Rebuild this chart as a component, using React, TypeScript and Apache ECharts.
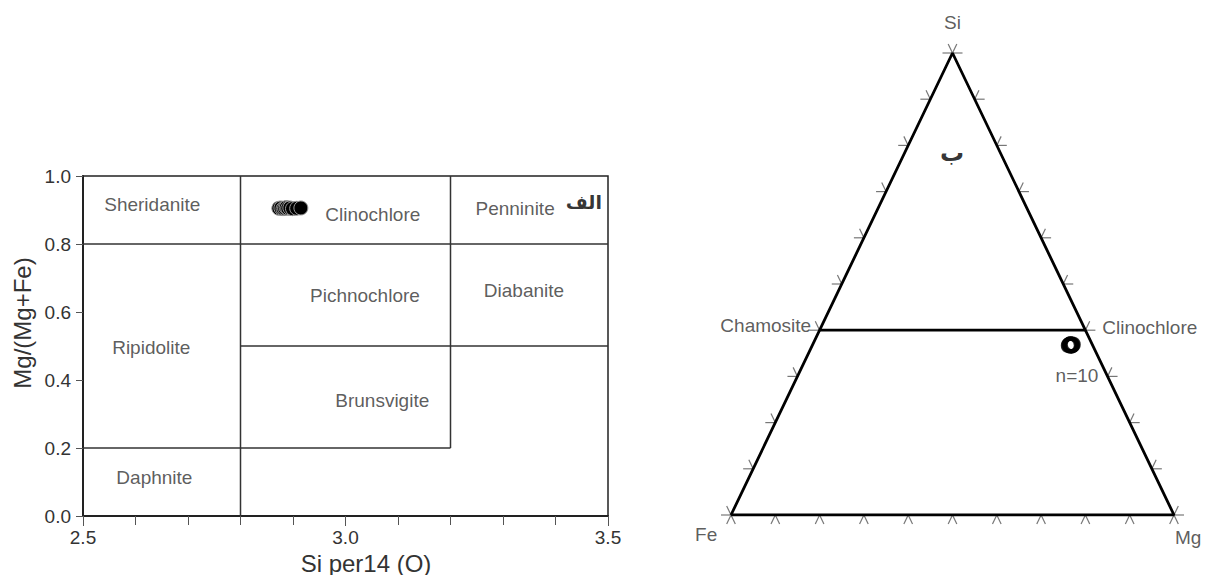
import React, { useEffect, useRef } from "react";
import * as echarts from "echarts";

// ---------- Left diagram (Si per 14 O vs Mg/(Mg+Fe)) ----------
const xTicks = [2.5, 3.0, 3.5];
const yTicks = [0.0, 0.2, 0.4, 0.6, 0.8, 1.0];

// field boundaries: [x1, y1, x2, y2]
const fieldLines = [
  [2.5, 0.8, 3.5, 0.8],
  [2.8, 0.0, 2.8, 1.0],
  [3.2, 0.2, 3.2, 1.0],
  [2.8, 0.5, 3.5, 0.5],
  [2.5, 0.2, 3.2, 0.2],
];

const fieldNames = ["Sheridanite", "Clinochlore", "Penninite", "Pichnochlore", "Diabanite", "Ripidolite", "Brunsvigite", "Daphnite"];
const fieldX = [2.632, 3.052, 3.323, 3.037, 3.34, 2.63, 3.07, 2.636];
const fieldY = [0.915, 0.888, 0.903, 0.65, 0.662, 0.497, 0.341, 0.112];

const sampleSi = [2.873, 2.877, 2.881, 2.884, 2.887, 2.890, 2.894, 2.899, 2.907, 2.915];
const sampleMgRatio = [0.905, 0.906, 0.904, 0.905, 0.907, 0.905, 0.906, 0.904, 0.905, 0.906];

const panelA = { text: "الف", x: 3.454, y: 0.924 };

// ---------- Right ternary diagram (Si - Fe - Mg) ----------
const tickFractions = [0, 0.1, 0.2, 0.3, 0.4, 0.5, 0.6, 0.7, 0.8, 0.9, 1.0];
const divideSi = 0.4; // Chamosite - Clinochlore line
const ternSi = [0.368, 0.369, 0.367, 0.368, 0.370, 0.366, 0.368, 0.369, 0.367, 0.368];
const ternMg = [0.580, 0.582, 0.584, 0.586, 0.581, 0.585, 0.583, 0.587, 0.579, 0.584];

// labels in the triangle frame [name, gx, gy, align, bold]
const ternLabels: [string, number, number, string, boolean][] = [
  ["Si", 0.5, 1.067, "center", false],
  ["Fe", -0.056, -0.043, "center", false],
  ["Mg", 1.032, -0.048, "center", false],
  ["Chamosite", 0.181, 0.41, "right", false],
  ["Clinochlore", 0.838, 0.406, "left", false],
  ["n=10", 0.781, 0.301, "center", false],
  ["ب", 0.499, 0.784, "center", true],
];

// ternary (Si, Mg) -> triangle frame
const toFrame = (si: number, mg: number) => [mg + si / 2, si];

const FONT = "Liberation Sans";

export default function App() {
  const ref = useRef<HTMLDivElement>(null);
  useEffect(() => {
    document.body.style.margin = "0";
    const chart = echarts.init(ref.current!, undefined, { renderer: "svg" });

    const fieldSeries = fieldLines.map((l) => ({
      type: "line",
      xAxisIndex: 0,
      yAxisIndex: 0,
      data: [[l[0], l[1]], [l[2], l[3]]],
      symbol: "none",
      lineStyle: { color: "#333", width: 1.5 },
      silent: true,
    }));

    const vFe = toFrame(0, 0);
    const vMg = toFrame(0, 1);
    const vSi = toFrame(1, 0);

    const tickData: number[][] = [];
    // side 0: Fe->Mg (base), side 1: Fe->Si (left), side 2: Mg->Si (right)
    const sides = [
      [vFe, vMg],
      [vFe, vSi],
      [vMg, vSi],
    ];
    sides.forEach((sd, s) => {
      tickFractions.forEach((f) => {
        tickData.push([sd[0][0] + (sd[1][0] - sd[0][0]) * f, sd[0][1] + (sd[1][1] - sd[0][1]) * f, s]);
      });
    });

    const option: any = {
      animation: false,
      backgroundColor: "#fff",
      graphic: [
        {
          type: "text",
          x: 22,
          y: 323,
          rotation: Math.PI / 2,
          style: { text: "Mg/(Mg+Fe)", fontFamily: FONT, fontSize: 24, fill: "#333", align: "center", verticalAlign: "middle" },
        },
        {
          type: "text",
          x: 366,
          y: 563,
          style: { text: "Si per14 (O)", fontFamily: FONT, fontSize: 24, fill: "#333", align: "center", verticalAlign: "middle" },
        },
      ],
      grid: [
        { left: 83, top: 176, width: 525, height: 340, show: true, borderColor: "#222", borderWidth: 1.5, backgroundColor: "transparent" },
        { left: 731, top: 53, width: 443, height: 462 },
      ],
      xAxis: [
        {
          gridIndex: 0,
          type: "value",
          min: 2.5,
          max: 3.5,
          interval: 0.5,
          axisLine: { show: true, lineStyle: { color: "#222", width: 2 } },
          axisTick: { show: true, length: 10, lineStyle: { color: "#555" } },
          minorTick: { show: true, splitNumber: 5, length: 9, lineStyle: { color: "#555" } },
          splitLine: { show: false },
          axisLabel: { fontFamily: FONT, fontSize: 19, color: "#333", margin: 12, formatter: (v: number) => v.toFixed(1) },
        },
        { gridIndex: 1, type: "value", min: 0, max: 1, show: false },
      ],
      yAxis: [
        {
          gridIndex: 0,
          type: "value",
          min: 0,
          max: 1,
          interval: 0.2,
          axisLine: { show: true, lineStyle: { color: "#222", width: 2 } },
          axisTick: { show: true, length: 7, lineStyle: { color: "#555" } },
          splitLine: { show: false },
          axisLabel: { fontFamily: FONT, fontSize: 19, color: "#333", margin: 12, formatter: (v: number) => v.toFixed(1) },
        },
        { gridIndex: 1, type: "value", min: 0, max: 1, show: false },
      ],
      series: [
        ...fieldSeries,
        {
          type: "scatter",
          xAxisIndex: 0,
          yAxisIndex: 0,
          data: fieldNames.map((n, i) => ({ value: [fieldX[i], fieldY[i]], name: n })),
          symbolSize: 1,
          itemStyle: { color: "transparent" },
          label: { show: true, position: "inside", formatter: "{b}", fontFamily: FONT, fontSize: 19, color: "#333" },
          silent: true,
        },
        {
          type: "scatter",
          xAxisIndex: 0,
          yAxisIndex: 0,
          data: [{ value: [panelA.x, panelA.y], name: panelA.text }],
          symbolSize: 1,
          itemStyle: { color: "transparent" },
          label: { show: true, position: "inside", formatter: "{b}", fontFamily: "DejaVu Sans", fontWeight: "bold", fontSize: 19, color: "#000" },
          silent: true,
        },
        {
          type: "scatter",
          xAxisIndex: 0,
          yAxisIndex: 0,
          data: sampleSi.map((x, i) => [x, sampleMgRatio[i]]),
          symbolSize: 14,
          itemStyle: { color: "#000", borderColor: "#999", borderWidth: 1, opacity: 1 },
          z: 5,
        },
        // ternary outline
        {
          type: "line",
          xAxisIndex: 1,
          yAxisIndex: 1,
          data: [vFe, vSi, vMg, vFe],
          symbol: "none",
          lineStyle: { color: "#000", width: 2.8 },
          silent: true,
          z: 4,
        },
        {
          type: "line",
          xAxisIndex: 1,
          yAxisIndex: 1,
          data: [toFrame(divideSi, 0), toFrame(divideSi, 1 - divideSi)],
          symbol: "none",
          lineStyle: { color: "#000", width: 2.8 },
          silent: true,
          z: 4,
        },
        {
          type: "custom",
          xAxisIndex: 1,
          yAxisIndex: 1,
          clip: false,
          silent: true,
          data: tickData,
          renderItem: (params: any, api: any) => {
            const p = api.coord([api.value(0), api.value(1)]);
            const s = api.value(2);
            const pFe = api.coord(vFe);
            const pMg = api.coord(vMg);
            const pSi = api.coord(vSi);
            const tri = s === 0 ? [pFe, pMg, pSi] : s === 1 ? [pFe, pSi, pMg] : [pMg, pSi, pFe];
            const [A, B, C] = tri;
            const L = 10;
            const stub = (T: number[]) => {
              const dx = T[0] - C[0];
              const dy = T[1] - C[1];
              const d = Math.sqrt(dx * dx + dy * dy);
              return {
                type: "line",
                shape: { x1: p[0], y1: p[1], x2: p[0] + (dx / d) * L, y2: p[1] + (dy / d) * L },
                style: { stroke: "#777", lineWidth: 1.2 },
              };
            };
            return { type: "group", children: [stub(A), stub(B)] };
          },
        },
        {
          type: "scatter",
          xAxisIndex: 1,
          yAxisIndex: 1,
          data: ternSi.map((si, i) => toFrame(si, ternMg[i])),
          symbolSize: 13,
          itemStyle: { color: "transparent", borderColor: "#000", borderWidth: 3 },
          z: 6,
        },
        {
          type: "scatter",
          xAxisIndex: 1,
          yAxisIndex: 1,
          clip: false,
          data: ternLabels.map((l) => ({
            value: [l[1], l[2]],
            name: l[0],
            label: {
              align: l[3],
              fontWeight: l[4] ? "bold" : "normal",
              fontFamily: l[4] ? "DejaVu Sans" : FONT,
              fontSize: l[4] ? 24 : 19,
              color: l[4] ? "#000" : "#333",
            },
          })),
          symbolSize: 1,
          itemStyle: { color: "transparent" },
          label: { show: true, position: "inside", formatter: "{b}", fontFamily: FONT, fontSize: 19, color: "#333" },
          silent: true,
        },
      ],
    };
    chart.setOption(option);
    return () => chart.dispose();
  }, []);
  return <div ref={ref} style={{ width: 1213, height: 575 }} />;
}
